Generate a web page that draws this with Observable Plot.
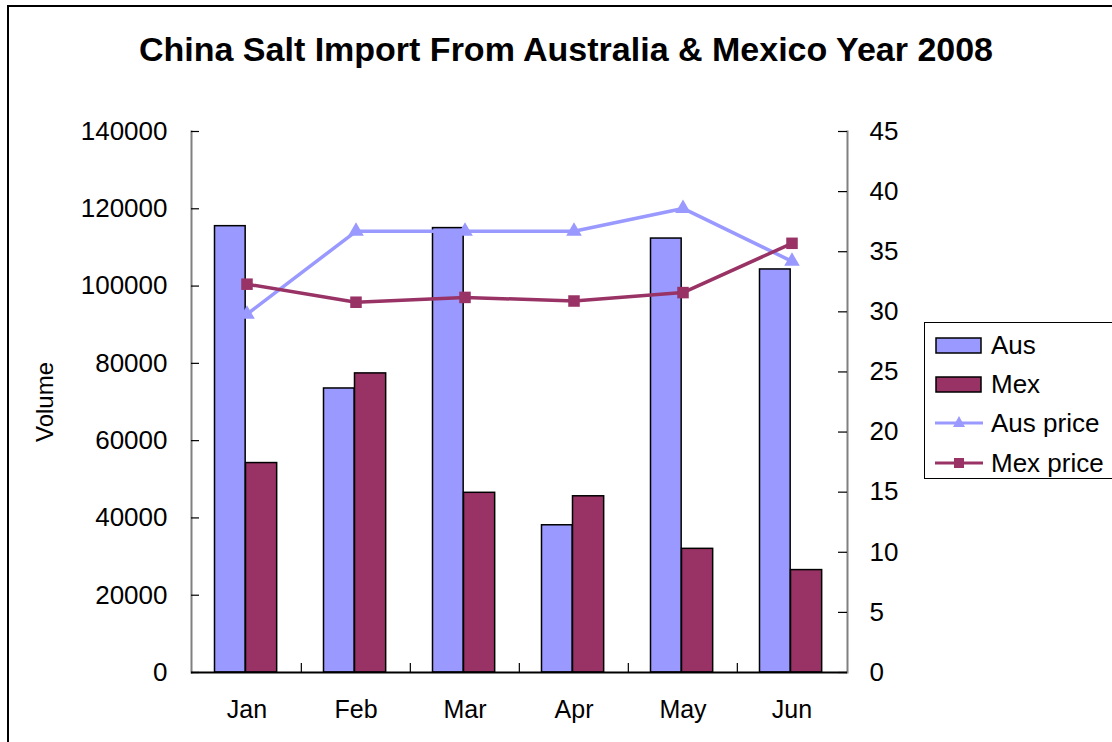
<!DOCTYPE html>
<html>
<head>
<meta charset="utf-8">
<script src="https://cdn.jsdelivr.net/npm/d3@7"></script>
<script src="https://cdn.jsdelivr.net/npm/@observablehq/plot@0.6"></script>
<style>
  html, body { margin: 0; padding: 0; background: #fff; }
  #wrap { position: relative; width: 1112px; height: 742px; overflow: hidden; font-family: "Liberation Sans", Arial, sans-serif; }
  #border { position: absolute; left: 7px; top: 5px; width: 1200px; height: 900px; border: 2px solid #000; box-sizing: border-box; }
  #title { position: absolute; left: 0; width: 1132px; top: 30px; text-align: center; font-weight: bold; font-size: 34px; color: #000; }
  #chart { position: absolute; left: 0; top: 0; }
  #legend { position: absolute; left: 924px; top: 322px; width: 200px; height: 157px; border: 1px solid #000; box-sizing: border-box; background: #fff; }
  .item { position: absolute; left: 10px; height: 30px; display: flex; align-items: center; font-size: 26px; color: #000; }
  .item svg { margin-right: 6px; }
</style>
</head>
<body>
<div id="wrap">
  <div id="border"></div>
  <div id="chart"></div>
  <div id="title">China Salt Import From Australia &amp; Mexico Year 2008</div>
  <div id="legend"></div>
</div>
<script>
const months = ["Jan", "Feb", "Mar", "Apr", "May", "Jun"];
const ausVolume = [115500, 73500, 115000, 38100, 112300, 104300];
const mexVolume = [54200, 77400, 46500, 45600, 32000, 26500];
const ausPrice = [29.8, 36.7, 36.7, 36.7, 38.6, 34.2];
const mexPrice = [32.3, 30.8, 31.2, 30.9, 31.6, 35.7];
const volumeTicks = [0, 20000, 40000, 60000, 80000, 100000, 120000, 140000];
const priceTicks = [0, 5, 10, 15, 20, 25, 30, 35, 40, 45];
const seriesNames = ["Aus", "Mex", "Aus price", "Mex price"];
const colors = { aus: "#9999FF", mex: "#993366" };

const volMax = 140000, priceMax = 45;
const k = volMax / priceMax; // map price onto the volume scale (secondary axis)

const ausRows = months.map((m, i) => ({ month: m, value: ausVolume[i] }));
const mexRows = months.map((m, i) => ({ month: m, value: mexVolume[i] }));
const ausPriceRows = months.map((m, i) => ({ month: m, price: ausPrice[i] }));
const mexPriceRows = months.map((m, i) => ({ month: m, price: mexPrice[i] }));

const W = 1112, H = 742, mL = 191, mR = 265, mT = 131, mB = 70;
const plotW = W - mL - mR, plotH = H - mT - mB;
const band = plotW / months.length;

const chart = Plot.plot({
  width: W, height: H,
  marginLeft: mL, marginRight: mR, marginTop: mT, marginBottom: mB,
  style: { fontFamily: "'Liberation Sans', Arial, sans-serif", fontSize: "26px", color: "#000", background: "transparent", overflow: "visible" },
  x: { domain: months, padding: 0, label: null },
  y: { domain: [0, volMax], label: null },
  marks: [
    Plot.barY(ausRows, { x: "month", y: "value", fill: colors.aus, stroke: "#000", strokeWidth: 1.5, insetLeft: 22.5, insetRight: band - 53.5 }),
    Plot.barY(mexRows, { x: "month", y: "value", fill: colors.mex, stroke: "#000", strokeWidth: 1.5, insetLeft: 53.5, insetRight: band - 85 }),
    Plot.line(ausPriceRows, { x: "month", y: d => d.price * k, stroke: colors.aus, strokeWidth: 3.5 }),
    Plot.dot(ausPriceRows, { x: "month", y: d => d.price * k, symbol: "triangle", fill: colors.aus, r: 5.8 }),
    Plot.line(mexPriceRows, { x: "month", y: d => d.price * k, stroke: colors.mex, strokeWidth: 3.5 }),
    Plot.dot(mexPriceRows, { x: "month", y: d => d.price * k, symbol: "square", fill: colors.mex, r: 6.5 }),
    Plot.frame({ anchor: "left", stroke: "#808080", strokeWidth: 2 }),
    Plot.frame({ anchor: "right", stroke: "#808080", strokeWidth: 2 }),
    Plot.ruleY(volumeTicks, { y: d => d, insetRight: plotW - 8, stroke: "#000", strokeWidth: 1.2 }),
    Plot.ruleY(priceTicks, { y: d => d * k, insetLeft: plotW - 9, stroke: "#000", strokeWidth: 1.2 }),
    Plot.ruleX(months.slice(1), { x: d => d, dx: -band / 2, insetTop: plotH - 9, stroke: "#000", strokeWidth: 1.2 }),
    Plot.ruleY([0], { stroke: "#000", strokeWidth: 2 }),
    Plot.axisY(volumeTicks, { anchor: "left", tickSize: 0, tickPadding: 24, tickFormat: d3.format("d"), fontSize: 26, label: null }),
    Plot.text(["Volume"], { frameAnchor: "left", textAnchor: "middle", rotate: -90, dx: -146, fontSize: 24, fill: "#000" }),
    Plot.axisY(priceTicks.map(v => v * k), { anchor: "right", tickSize: 0, tickPadding: 22, tickFormat: d => String(Math.round(d / k)), fontSize: 26, label: null }),
    Plot.axisX(months, { tickSize: 0, tickPadding: 28, fontSize: 25, label: null })
  ]
});
document.getElementById("chart").appendChild(chart);

// Legend
const legend = document.getElementById("legend");
const legendTops = [22, 61, 100, 140];
seriesNames.forEach((name, i) => {
  const div = document.createElement("div");
  div.className = "item";
  div.style.top = (legendTops[i] - 15) + "px";
  let sw;
  if (i < 2) {
    const c = i === 0 ? colors.aus : colors.mex;
    sw = `<svg width="50" height="20"><rect x="1" y="3" width="45" height="15" fill="${c}" stroke="#000" stroke-width="1.5"/></svg>`;
  } else {
    const c = i === 2 ? colors.aus : colors.mex;
    const marker = i === 2
      ? `<path d="M24,3 L30,14 L18,14 Z" fill="${c}"/>`
      : `<rect x="19" y="5" width="10" height="10" fill="${c}"/>`;
    sw = `<svg width="50" height="20"><line x1="0" y1="10" x2="48" y2="10" stroke="${c}" stroke-width="3"/>${marker}</svg>`;
  }
  div.innerHTML = sw + `<span>${name}</span>`;
  legend.appendChild(div);
});
</script>
</body>
</html>
